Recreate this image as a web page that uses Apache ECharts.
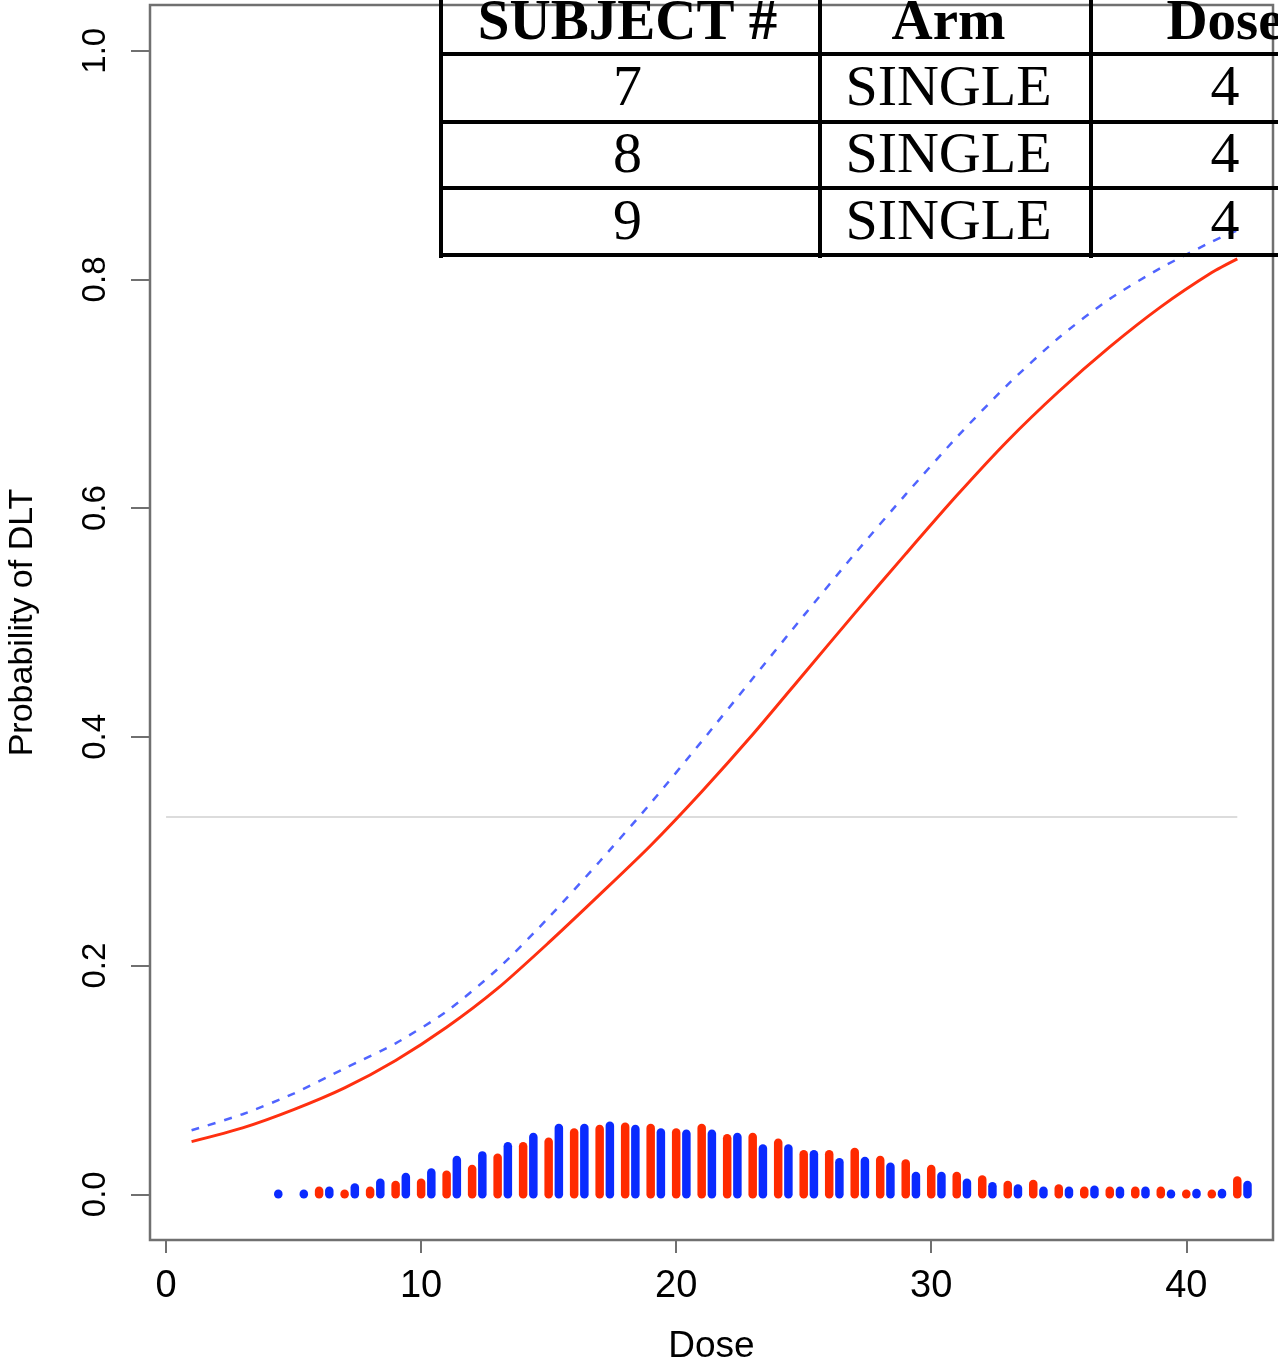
<!DOCTYPE html>
<html>
<head>
<meta charset="utf-8">
<title>Probability of DLT by Dose</title>
<script src="https://cdn.jsdelivr.net/npm/echarts@6/dist/echarts.min.js"></script>
<style>
  html, body { margin: 0; padding: 0; background: #ffffff; }
  #chart { width: 1278px; height: 1363px; }
</style>
</head>
<body>
<div id="chart"></div>
<script>
// Dose-toxicity curves (posterior estimates) sampled along the dose grid
var curveDoses = [1, 3, 5, 7, 9, 11, 13, 15, 17, 19, 21, 23, 25, 27, 29, 31, 33, 35, 37, 39, 41, 42];
var redCurve   = [0.046, 0.058, 0.074, 0.093, 0.117, 0.146, 0.180, 0.220, 0.262, 0.305, 0.352, 0.402,
                  0.455, 0.508, 0.560, 0.611, 0.659, 0.702, 0.741, 0.776, 0.806, 0.818];
var blueCurve  = [0.056, 0.070, 0.088, 0.110, 0.132, 0.160, 0.197, 0.242, 0.291, 0.342, 0.396, 0.451,
                  0.506, 0.560, 0.612, 0.662, 0.708, 0.749, 0.783, 0.810, 0.833, 0.843];

// Target toxicity level
var targetLevel = 0.33;
var targetFrom = 0;
var targetTo = 42;

// Dose distributions drawn as spikes along the bottom
var redHistDoses = [6, 7, 8, 9, 10, 11, 12, 13, 14, 15, 16, 17, 18, 19, 20, 21, 22, 23, 24, 25, 26, 27,
                    28, 29, 30, 31, 32, 33, 34, 35, 36, 37, 38, 39, 40, 41, 42];
var redHist = [0.003, 0.000, 0.003, 0.008, 0.010, 0.017, 0.022, 0.032, 0.042, 0.046, 0.054, 0.057,
               0.059, 0.058, 0.054, 0.058, 0.049, 0.050, 0.045, 0.035, 0.035, 0.037, 0.030, 0.027,
               0.022, 0.016, 0.013, 0.008, 0.009, 0.005, 0.003, 0.003, 0.003, 0.003, 0.000, 0.000, 0.012];
var blueHistDoses = [4.4, 5.4, 6.4, 7.4, 8.4, 9.4, 10.4, 11.4, 12.4, 13.4, 14.4, 15.4, 16.4, 17.4, 18.4,
                     19.4, 20.4, 21.4, 22.4, 23.4, 24.4, 25.4, 26.4, 27.4, 28.4, 29.4, 30.4, 31.4, 32.4,
                     33.4, 34.4, 35.4, 36.4, 37.4, 38.4, 39.4, 40.4, 41.4, 42.4];
var blueHist = [0.000, 0.000, 0.003, 0.006, 0.010, 0.015, 0.019, 0.030, 0.034, 0.042, 0.050, 0.058,
                0.058, 0.060, 0.057, 0.054, 0.053, 0.053, 0.050, 0.040, 0.040, 0.035, 0.028, 0.029,
                0.024, 0.016, 0.016, 0.010, 0.007, 0.005, 0.003, 0.003, 0.004, 0.003, 0.003, 0.000,
                0.001, 0.001, 0.008];

// Axis ticks
var xTicks = [0, 10, 20, 30, 40];
var yTicks = [0, 0.2, 0.4, 0.6, 0.8, 1.0];

// Subject table
var tableHeader = ['SUBJECT #', 'Arm', 'Dose'];
var tableRows = [
  ['7', 'SINGLE', '4'],
  ['8', 'SINGLE', '4'],
  ['9', 'SINGLE', '4']
];

var RED = '#ff2a00';
var BLUE = '#0a2aff';
var FRAME = '#707070';

function pairs(xs, ys) {
  return xs.map(function (x, i) { return [x, ys[i]]; });
}

function spikeSeries(name, xs, ys, color) {
  return {
    name: name,
    type: 'custom',
    data: pairs(xs, ys),
    z: 3,
    renderItem: function (params, api) {
      var x = api.value(0), h = api.value(1);
      var p0 = api.coord([x, 0]);
      var p1 = api.coord([x, h]);
      // keep zero-height spikes visible as round dots
      if (p0[1] - p1[1] < 0.5) { p1 = [p1[0], p0[1] - 0.5]; }
      return {
        type: 'line',
        shape: { x1: p0[0], y1: p0[1], x2: p1[0], y2: p1[1] },
        style: { stroke: color, lineWidth: 8.5, lineCap: 'round' }
      };
    }
  };
}

// Table built as graphic elements over the plot
var colEdges = [441, 820, 1091, 1359];
var colTextShift = [-3, -7, 0];
var rowEdges = [-10, 54, 122, 188, 255];
var tableTop = -10, tableBottom = 258;
var tableGraphics = [];
colEdges.slice(0, 3).forEach(function (x) {
  tableGraphics.push({
    type: 'line', z: 100,
    shape: { x1: x, y1: tableTop, x2: x, y2: tableBottom },
    style: { stroke: '#000', lineWidth: 4 }
  });
});
rowEdges.slice(1).forEach(function (y) {
  tableGraphics.push({
    type: 'line', z: 100,
    shape: { x1: colEdges[0] - 2, y1: y, x2: 1290, y2: y },
    style: { stroke: '#000', lineWidth: 4 }
  });
});
function cellText(txt, col, row, bold) {
  var cx = (colEdges[col] + colEdges[col + 1]) / 2 + colTextShift[col];
  var cy = (rowEdges[row] + rowEdges[row + 1]) / 2 + 2;
  return {
    type: 'text', z: 101,
    x: cx, y: cy,
    style: {
      text: txt,
      fill: '#000',
      font: (bold ? 'bold 57px ' : '58px ') + '"Liberation Serif", "Times New Roman", serif',
      align: 'center',
      verticalAlign: 'middle'
    }
  };
}
tableHeader.forEach(function (h, c) { tableGraphics.push(cellText(h, c, 0, true)); });
tableRows.forEach(function (r, ri) {
  r.forEach(function (v, c) { tableGraphics.push(cellText(v, c, ri + 1, false)); });
});

var chart = echarts.init(document.getElementById('chart'), null, { renderer: 'canvas' });
chart.setOption({
  backgroundColor: '#ffffff',
  animation: false,
  textStyle: { fontFamily: '"Liberation Sans", Arial, Helvetica, sans-serif' },
  grid: {
    left: 150, top: 5, right: 5, bottom: 123,
    outerBoundsMode: 'none',
    containLabel: false,
    show: true, borderColor: FRAME, borderWidth: 2.5, backgroundColor: 'transparent'
  },
  xAxis: {
    type: 'value',
    min: -0.63, max: 43.4,
    axisLine: { show: false, onZero: false },
    splitLine: { show: false },
    axisTick: { show: true, customValues: xTicks, length: 13, lineStyle: { color: FRAME, width: 2 } },
    axisLabel: { customValues: xTicks, margin: 28, fontSize: 38, color: '#000' },
    name: 'Dose',
    nameLocation: 'middle',
    nameGap: 88,
    nameTextStyle: { fontSize: 37, color: '#000' }
  },
  yAxis: {
    type: 'value',
    min: -0.04, max: 1.04,
    axisLine: { show: false, onZero: false },
    splitLine: { show: false },
    axisTick: { show: true, customValues: yTicks, length: 19, lineStyle: { color: FRAME, width: 2 } },
    axisLabel: {
      customValues: yTicks, rotate: 90, margin: 38, fontSize: 33, color: '#000',
      formatter: function (v) { return v.toFixed(1); }
    },
    name: 'Probability of DLT',
    nameLocation: 'middle',
    nameRotate: 90,
    nameGap: 110,
    nameTextStyle: { fontSize: 34, color: '#000' }
  },
  graphic: tableGraphics,
  series: [
    {
      name: 'Target',
      type: 'line',
      data: [[targetFrom, targetLevel], [targetTo, targetLevel]],
      showSymbol: false,
      lineStyle: { color: '#dcdcdc', width: 2 },
      z: 1
    },
    {
      name: 'Red curve',
      type: 'line',
      data: pairs(curveDoses, redCurve),
      showSymbol: false,
      smooth: 0.25,
      lineStyle: { color: '#ff3010', width: 3 },
      z: 4
    },
    {
      name: 'Blue curve',
      type: 'line',
      data: pairs(curveDoses, blueCurve),
      showSymbol: false,
      smooth: 0.25,
      lineStyle: { color: '#5064ff', width: 2.5, type: [8, 9] },
      z: 4
    },
    spikeSeries('Red doses', redHistDoses, redHist, RED),
    spikeSeries('Blue doses', blueHistDoses, blueHist, BLUE)
  ]
});
</script>
</body>
</html>
